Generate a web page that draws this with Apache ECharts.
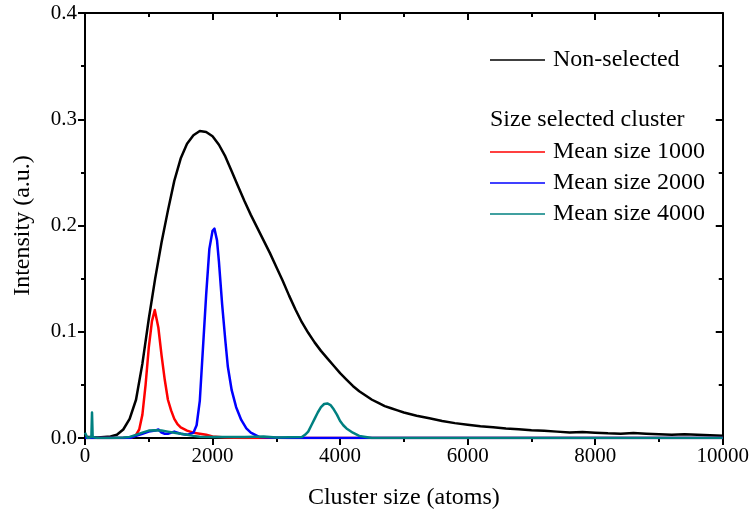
<!DOCTYPE html>
<html>
<head>
<meta charset="utf-8">
<script src="https://cdn.jsdelivr.net/npm/echarts@6/dist/echarts.min.js"></script>
<style>html,body{margin:0;padding:0;background:#fff}#c{width:752px;height:520px}</style>
</head>
<body>
<div id="c"></div>
<script>
// Tick labels
const xTicks = [0, 2000, 4000, 6000, 8000, 10000];
const yTicks = [0.0, 0.1, 0.2, 0.3, 0.4];

// Non-selected (black)
const nonSelected = [
  [0,0.001],[100,0.001],[200,0.0005],[300,0.001],[400,0.0015],[500,0.003],[600,0.008],[700,0.018],
  [800,0.036],[900,0.07],[1000,0.112],[1100,0.15],[1200,0.184],[1300,0.214],[1400,0.242],[1500,0.263],
  [1600,0.277],[1700,0.285],[1800,0.289],[1900,0.288],[2000,0.284],[2100,0.276],[2200,0.265],[2300,0.251],
  [2400,0.237],[2500,0.223],[2600,0.21],[2700,0.198],[2800,0.186],[2900,0.174],[3000,0.161],[3100,0.148],
  [3200,0.134],[3300,0.121],[3400,0.109],[3500,0.099],[3600,0.09],[3700,0.082],[3800,0.075],[3900,0.068],
  [4000,0.061],[4100,0.055],[4200,0.049],[4300,0.044],[4400,0.04],[4500,0.036],[4600,0.033],[4700,0.03],
  [4800,0.028],[4900,0.026],[5000,0.024],[5200,0.021],[5400,0.0185],[5600,0.016],[5800,0.014],[6000,0.0125],
  [6200,0.011],[6400,0.0102],[6600,0.009],[6800,0.0082],[7000,0.0072],[7200,0.0068],[7400,0.006],[7600,0.0052],
  [7800,0.0056],[8000,0.005],[8200,0.0044],[8400,0.0041],[8600,0.0046],[8800,0.004],[9000,0.0035],[9200,0.0031],
  [9400,0.0036],[9600,0.003],[9800,0.0026],[10000,0.0022]
];

// Mean size 1000 (red)
const mean1000 = [
  [0,0],[300,0],[600,0],[700,0.0005],[750,0.001],[800,0.003],[850,0.008],[900,0.022],[950,0.05],[1000,0.085],
  [1050,0.11],[1094,0.1205],[1150,0.104],[1200,0.078],[1250,0.055],[1300,0.036],[1350,0.026],[1400,0.018],
  [1450,0.013],[1500,0.01],[1600,0.007],[1700,0.005],[1800,0.004],[1900,0.003],[2000,0.0015],[2200,0.0005],
  [2500,0],[4000,0],[6000,0],[8000,0],[10000,0]
];

// Mean size 2000 (blue)
const mean2000 = [
  [0,0],[400,0],[700,0],[800,0.002],[900,0.004],[1000,0.006],[1100,0.007],[1150,0.008],[1200,0.005],
  [1250,0.004],[1300,0.004],[1400,0.006],[1500,0.004],[1600,0.003],[1700,0.005],[1750,0.012],[1800,0.035],
  [1850,0.085],[1900,0.135],[1950,0.178],[2000,0.195],[2030,0.197],[2070,0.186],[2100,0.166],[2150,0.126],
  [2200,0.092],[2240,0.067],[2300,0.045],[2370,0.029],[2450,0.017],[2530,0.009],[2600,0.005],[2730,0.001],
  [2900,0.0005],[3200,0],[5000,0],[7500,0],[10000,0]
];

// Mean size 4000 (teal)
const mean4000 = [
  [0,0.005],[20,0.004],[40,0],[100,0.001],[110,0.024],[120,0.001],[200,0],[400,0],[600,0.0005],[700,0.001],
  [800,0.003],[900,0.005],[1000,0.007],[1100,0.0072],[1200,0.007],[1300,0.006],[1400,0.005],[1500,0.004],
  [1600,0.003],[1700,0.002],[1800,0.0012],[2000,0.001],[2500,0.001],[2800,0.0015],[3000,0.0005],[3400,0.001],
  [3450,0.003],[3500,0.006],[3550,0.012],[3600,0.018],[3650,0.024],[3700,0.029],[3750,0.032],[3800,0.0325],
  [3850,0.031],[3900,0.027],[3950,0.022],[4000,0.016],[4050,0.012],[4100,0.009],[4200,0.005],[4300,0.002],
  [4400,0.001],[4500,0],[6000,0],[8000,0],[10000,0]
];

const seriesNames = ['Non-selected', 'Mean size 1000', 'Mean size 2000', 'Mean size 4000'];
const seriesColors = ['#000000', '#ff0000', '#0000ff', '#008080'];
const seriesData = [nonSelected, mean1000, mean2000, mean4000];

const FONT = '"Liberation Serif", "Times New Roman", serif';
const chart = echarts.init(document.getElementById('c'), null, {renderer: 'canvas'});

const axisLine = {show: true, onZero: false, lineStyle: {color: '#000', width: 2}};
const xCommon = {
  type: 'value', min: xTicks[0], max: xTicks[xTicks.length - 1], interval: 2000,
  splitLine: {show: false}, minorSplitLine: {show: false}
};
const yCommon = {
  type: 'value', min: yTicks[0], max: yTicks[yTicks.length - 1], interval: 0.1,
  splitLine: {show: false}, minorSplitLine: {show: false}
};
const legendIcon = 'path://M0,11.25 L55,11.25 L55,12.75 L0,12.75 Z';

chart.setOption({
  animation: false,
  backgroundColor: '#fff',
  grid: {left: 85, right: 27, top: 13, bottom: 82, containLabel: false},
  title: {
    text: 'Size selected cluster', left: 490, top: 108, padding: 0,
    textStyle: {fontFamily: FONT, fontSize: 24, fontWeight: 'normal', color: '#000', lineHeight: 24}
  },
  legend: [
    {
      data: ['Non-selected'], left: 490, top: 48, padding: 0, orient: 'vertical',
      itemWidth: 55, itemHeight: 24, icon: legendIcon,
      textStyle: {fontFamily: FONT, fontSize: 24, color: '#000', lineHeight: 24, padding: [0, 0, 0, 3]},
      selectedMode: false
    },
    {
      data: ['Mean size 1000', 'Mean size 2000', 'Mean size 4000'], left: 490, top: 140, padding: 0,
      orient: 'vertical', itemGap: 7,
      itemWidth: 55, itemHeight: 24, icon: legendIcon,
      textStyle: {fontFamily: FONT, fontSize: 24, color: '#000', lineHeight: 24, padding: [0, 0, 0, 3]},
      selectedMode: false
    }
  ],
  xAxis: [
    Object.assign({}, xCommon, {
      position: 'bottom',
      name: 'Cluster size (atoms)', nameLocation: 'middle', nameGap: 48,
      nameTextStyle: {fontFamily: FONT, fontSize: 24, color: '#000'},
      axisLine: axisLine,
      axisTick: {show: true, inside: false, length: 7, lineStyle: {color: '#000', width: 2}},
      minorTick: {show: true, splitNumber: 2, length: 4, lineStyle: {color: '#000', width: 2}},
      axisLabel: {fontFamily: FONT, fontSize: 21, color: '#000', margin: 8, showMaxLabel: true, showMinLabel: true,
        formatter: function (v) { return String(v); }}
    }),
    Object.assign({}, xCommon, {
      position: 'top',
      axisLine: axisLine,
      axisTick: {show: true, inside: true, length: 7, lineStyle: {color: '#000', width: 2}},
      minorTick: {show: true, splitNumber: 2, length: 4, lineStyle: {color: '#000', width: 2}},
      axisLabel: {show: false}
    })
  ],
  yAxis: [
    Object.assign({}, yCommon, {
      position: 'left',
      name: 'Intensity (a.u.)', nameLocation: 'middle', nameGap: 50,
      nameTextStyle: {fontFamily: FONT, fontSize: 24, color: '#000'},
      axisLine: axisLine,
      axisTick: {show: true, inside: false, length: 7, lineStyle: {color: '#000', width: 2}},
      minorTick: {show: true, splitNumber: 2, length: 4, lineStyle: {color: '#000', width: 2}},
      axisLabel: {fontFamily: FONT, fontSize: 21, color: '#000', margin: 8,
        formatter: function (v) { return v.toFixed(1); }}
    }),
    Object.assign({}, yCommon, {
      position: 'right',
      axisLine: axisLine,
      axisTick: {show: true, inside: true, length: 7, lineStyle: {color: '#000', width: 2}},
      minorTick: {show: true, splitNumber: 2, length: 4, lineStyle: {color: '#000', width: 2}},
      axisLabel: {show: false}
    })
  ],
  series: seriesNames.map(function (name, i) {
    return {
      name: name, type: 'line', xAxisIndex: 0, yAxisIndex: 0,
      data: seriesData[i], symbol: 'none', smooth: false,
      color: seriesColors[i],
      lineStyle: {color: seriesColors[i], width: 2.5, join: 'round'},
      z: 2 + i
    };
  })
});
</script>
</body>
</html>
